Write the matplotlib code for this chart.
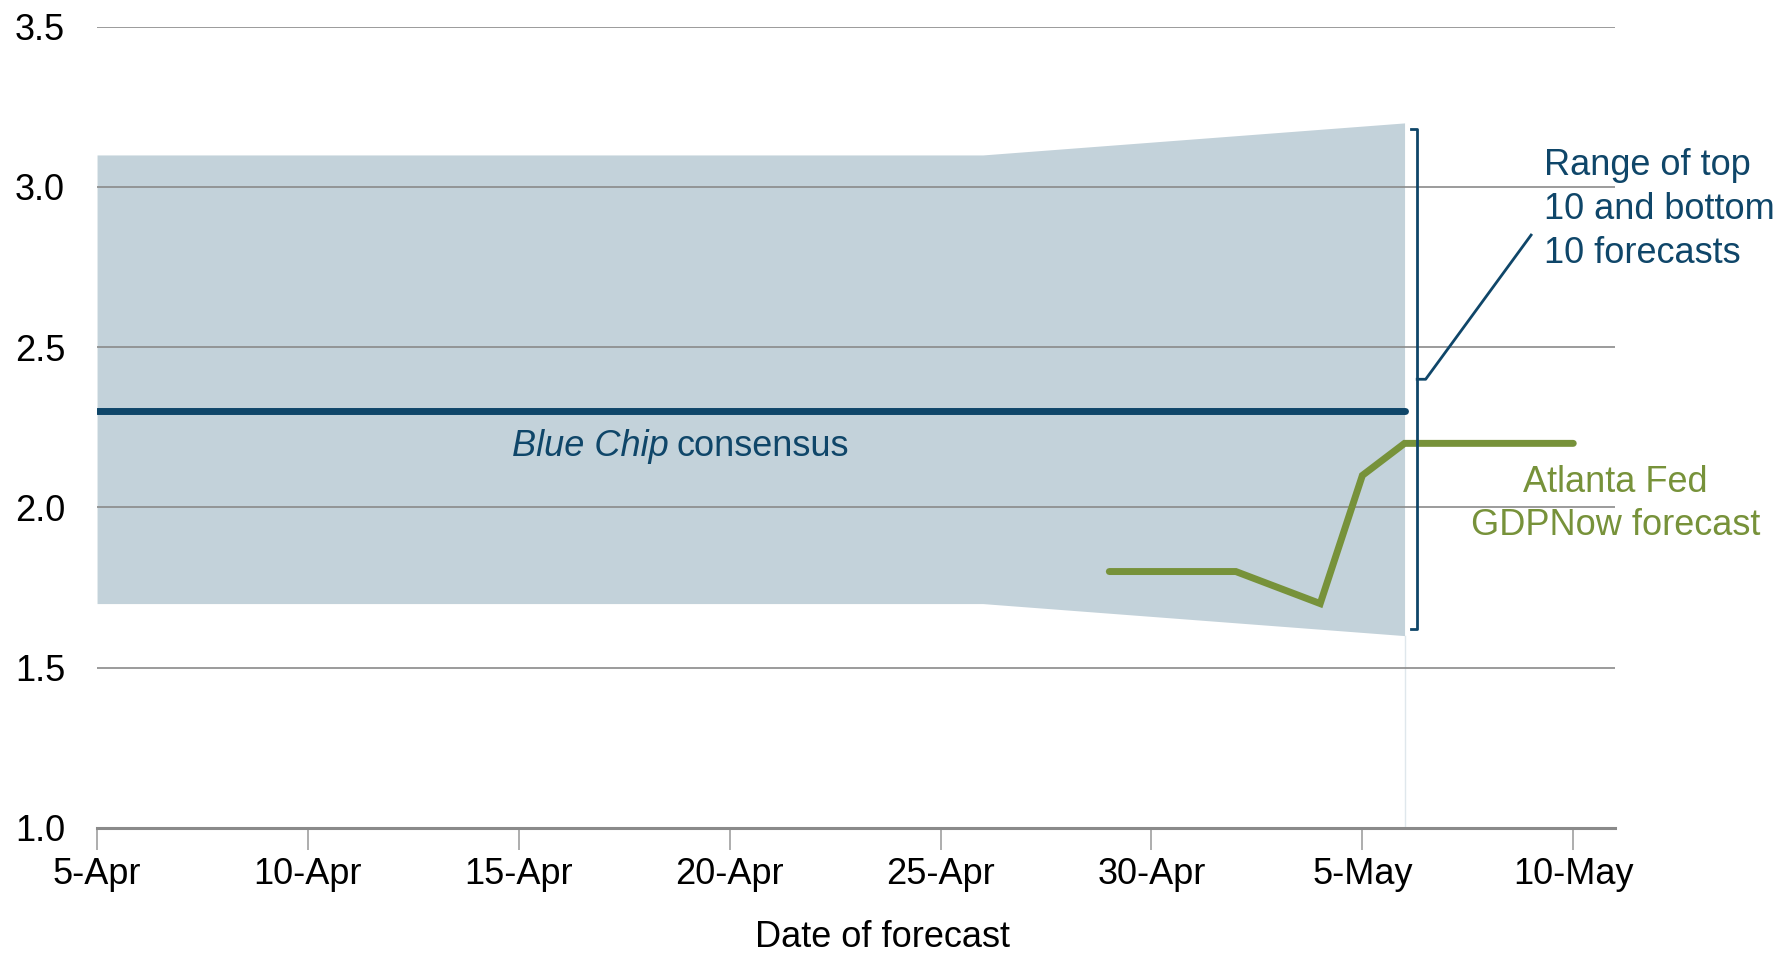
import matplotlib
matplotlib.use('Agg')
import matplotlib.pyplot as plt
import matplotlib.dates as mdates
import pandas as pd

plt.rcParams['font.family'] = ['Liberation Sans', 'DejaVu Sans']

# dati
band_dates = pd.to_datetime(['2018-04-05', '2018-04-26', '2018-05-06'])
band_low = [1.7, 1.7, 1.6]
band_high = [3.1, 3.1, 3.2]

consensus_dates = pd.to_datetime(['2018-04-05', '2018-05-06'])
consensus = [2.3, 2.3]

gdpnow_dates = pd.to_datetime(['2018-04-29', '2018-04-30', '2018-05-01', '2018-05-02',
                               '2018-05-03', '2018-05-04', '2018-05-05', '2018-05-06',
                               '2018-05-07', '2018-05-08', '2018-05-09', '2018-05-10'])
gdpnow = [1.8, 1.8, 1.8, 1.8, 1.75, 1.7, 2.1, 2.2, 2.2, 2.2, 2.2, 2.2]

tick_dates = pd.to_datetime(['2018-04-05', '2018-04-10', '2018-04-15', '2018-04-20',
                             '2018-04-25', '2018-04-30', '2018-05-05', '2018-05-10'])
tick_labels = ['5-Apr', '10-Apr', '15-Apr', '20-Apr', '25-Apr', '30-Apr', '5-May', '10-May']
y_ticks = [1.0, 1.5, 2.0, 2.5, 3.0, 3.5]

blue = '#0f4669'
green = '#77923a'
band_col = '#c3d2da'
grid_col = '#8a8a8a'

fig = plt.figure(figsize=(17.87, 9.56), dpi=100)
ax = fig.add_axes([0.0543, 0.134, 0.8497, 0.838])

ax.fill_between(band_dates, band_low, band_high, color=band_col, lw=0, zorder=1)
for y in y_ticks[1:]:
    ax.axhline(y, color=grid_col, lw=1.2, zorder=2)

d0 = mdates.date2num(pd.Timestamp('2018-04-05'))
may6 = mdates.date2num(pd.Timestamp('2018-05-06'))
ax.plot([may6, may6], [1.0, 1.6], color='#dfe7ec', lw=1, zorder=1)

ax.plot(consensus_dates, consensus, color=blue, lw=5, solid_capstyle='round', zorder=4)
ax.plot(gdpnow_dates, gdpnow, color=green, lw=5, solid_capstyle='round',
        solid_joinstyle='miter', zorder=5)

# parentesi
bx = d0 + 31.3
ax.plot([bx - 0.15, bx, bx, bx - 0.15], [3.18, 3.18, 1.62, 1.62], color=blue, lw=2, zorder=5)
ax.plot([bx, bx + 0.2, d0 + 34.0], [2.4, 2.4, 2.85], color=blue, lw=2, zorder=5)

ax.text(d0 + 34.3, 2.93, 'Range of top\n10 and bottom\n10 forecasts', color=blue,
        fontsize=26, ha='left', va='center', linespacing=1.33)
ax.text(d0 + 36.0, 2.01, 'Atlanta Fed\nGDPNow forecast', color=green,
        fontsize=26, ha='center', va='center', linespacing=1.28)
ax.text(d0 + 13.55, 2.19, 'Blue Chip', color=blue, fontsize=26, style='italic',
        ha='right', va='center')
ax.text(d0 + 13.75, 2.19, 'consensus', color=blue, fontsize=26, ha='left', va='center')

ax.set_xlim(d0, d0 + 36)
ax.set_ylim(1.0, 3.5)
ax.set_xticks(tick_dates)
ax.set_xticklabels(tick_labels)
ax.set_yticks(y_ticks)
ax.set_yticklabels([f'{v:.1f}' for v in y_ticks])

for s in ['top', 'right', 'left']:
    ax.spines[s].set_visible(False)
ax.spines['bottom'].set_color(grid_col)
ax.spines['bottom'].set_linewidth(2.2)
ax.tick_params(axis='x', length=16, width=1.2, color='#a0a0a0', labelsize=26, pad=5)
ax.tick_params(axis='y', length=0, labelsize=26, pad=23)
ax.set_xlabel('Date of forecast', fontsize=26)
ax.xaxis.label.set_va('center')
ax.xaxis.set_label_coords(0.517, -0.137)

fig.savefig('out.png', dpi=100)
